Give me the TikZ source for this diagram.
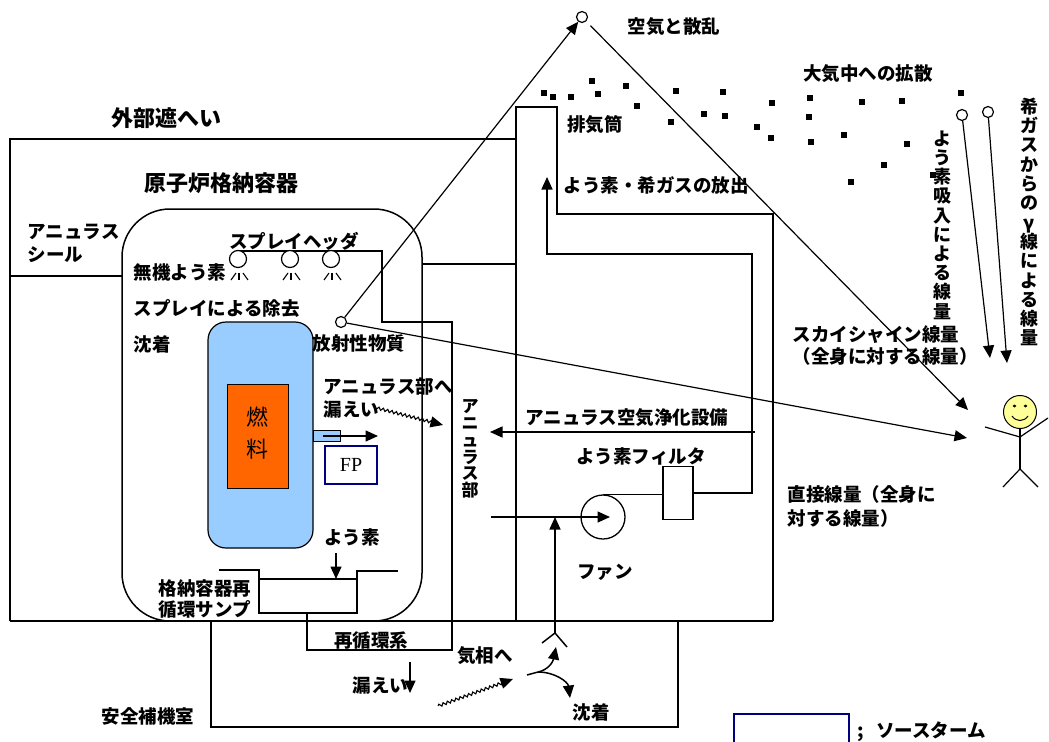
\documentclass[tikz,border=0pt]{standalone}
\usepackage{fontspec}
\setmainfont{Noto Sans CJK JP}
\newfontfamily\fpfont{Liberation Serif}
\usetikzlibrary{arrows.meta,decorations.pathmorphing}
\definecolor{vesselblue}{RGB}{153,204,255}
\definecolor{fuelorange}{RGB}{255,102,0}
\definecolor{fpnavy}{RGB}{0,0,128}
\definecolor{faceyellow}{RGB}{255,255,153}

\begin{document}
\begin{tikzpicture}[x=1bp,y=-1bp,line width=1.5bp,
  every node/.style={inner sep=0pt},
  lbl/.style={font=\fontsize{18.5bp}{20bp}\selectfont\bfseries},
  ttl/.style={font=\fontsize{22bp}{24bp}\selectfont\bfseries},
  vlbl/.style={align=center,font=\fontsize{18bp}{19.2bp}\selectfont\bfseries},
  arr/.style={-{Triangle[length=12.5bp,width=11bp]}},
  ray/.style={line width=1.2bp,arr},
  speck/.style={rectangle,fill=black,minimum width=6.5bp,minimum height=5.5bp},
  ring/.style={circle,draw,fill=white,minimum size=11bp,line width=1.2bp},
  nozzle/.style={circle,draw,fill=white,minimum size=17bp,line width=1.2bp},
  wavy/.style={decorate,decoration={snake,amplitude=1.4bp,segment length=4.5bp,post length=10bp}},
]
\useasboundingbox (0,0) rectangle (1049,742);
\clip (0,0) rectangle (1049,742);

% ---------- buildings ----------
% outer shield, stack and reactor building
\draw (10,621) -- (10,139) -- (516,139);
\draw (10,621) -- (773,621);
\draw (516,621) -- (516,107) -- (557,107) -- (557,214) -- (773,214) -- (773,621);
\draw (422,264) -- (516,264);
\draw (10,276) -- (122,276);
% safety auxiliary room
\draw (211,621) -- (211,727) -- (678,727) -- (678,621);
% containment vessel
\draw[rounded corners=48bp] (122,209) rectangle (422,621);

% ---------- spray / recirculation piping ----------
\draw (238,251) -- (382,251) -- (382,322) -- (452,322) -- (452,650) -- (307,650) -- (307,613);
% sump
\draw (219,570) -- (259,570) -- (259,613) -- (357,613) -- (357,571) -- (398,571);
\draw (259,579) -- (357,579);

% spray heads
\foreach \cx [count=\i] in {238,290,331} {
  \node[nozzle] (head\i) at (\cx,259) {};
  \draw[line width=1.1bp] (\cx-2,273) -- (\cx-7,280);
  \draw[line width=1.1bp] (\cx+1,273) -- (\cx+1,280);
  \draw[line width=1.1bp] (\cx+5,273) -- (\cx+10,280);
}

% ---------- reactor vessel ----------
\draw[fill=vesselblue,line width=1.2bp,rounded corners=18bp] (208,322) rectangle (313,548);
\draw[fill=fuelorange,line width=0.8bp] (227,384) rectangle (288,488);
\node[align=center,font=\fontsize{22bp}{32bp}\selectfont] (fueltxt) at (257.5,433) {燃\\料};
\draw[fill=vesselblue,line width=0.9bp] (313,430) rectangle (340,441);
\coordinate (fpfrom) at (323,436);
\coordinate (fpto) at (378,436);
\draw[arr] (fpfrom) -- (fpto);
\node[draw=fpnavy,line width=2.2bp,minimum width=52bp,minimum height=38bp,
      font=\fpfont\fontsize{20bp}{22bp}\selectfont] (fp) at (351,465) {FP};

% iodine into sump
\coordinate (iodfrom) at (336,553);
\coordinate (iodto) at (336,579);
\draw[arr] (iodfrom) -- (iodto);

% ---------- annulus air cleanup system ----------
\node[circle,draw,minimum size=44bp,line width=1.3bp] (fan) at (603,517) {};
\node[rectangle,draw,minimum width=30bp,minimum height=53bp,line width=1.3bp] (filter) at (678,493) {};
\draw (fan.north) -- (fan.north -| filter.west);
\coordinate (stackin) at (547,177);
\draw[arr] (filter.east) -- (752,493) -- (752,254) -- (547,254) -- (stackin);
\coordinate (recfrom) at (755,432);
\coordinate (recto) at (490,432);
\draw[arr] (recfrom) -- (recto);
\coordinate (intake) at (491,517);
\coordinate (fanin) at (610,517);
\draw[arr] (intake) -- (fanin);
\coordinate (inlet) at (555,633);
\coordinate (inletto) at (555,517);
\draw[arr] (inlet) -- (inletto);
\draw (inlet) -- ++(-13,10);
\draw (inlet) -- ++(12,14);

% ---------- leak paths ----------
\coordinate (lkA) at (373,407);
\coordinate (lkB) at (443,425);
\draw[wavy,arr,line width=1.1bp] (lkA) -- (lkB);
\coordinate (lkC) at (438,706);
\coordinate (lkD) at (513,679);
\draw[wavy,arr,line width=1.1bp] (lkC) -- (lkD);
\coordinate (drip) at (410,662);
\coordinate (dripto) at (410,693);
\draw[arr] (drip) -- (dripto);
\coordinate (gas) at (527,675);
\coordinate (split) at (538,672);
\draw (gas) -- (split);
\draw[arr] (split) .. controls (548,670) and (553,662) .. (556,647);
\draw[arr] (split) .. controls (555,672) and (568,682) .. (570,698);

% ---------- radiation paths ----------
\node[ring] (rad) at (341,322) {};
\node[ring] (air) at (582,17) {};
\coordinate (skytip) at (968,410);
\coordinate (directtip) at (967,438);
\draw[ray] (rad) -- (air);
\draw[ray,shorten <=6bp] (air) -- (skytip);
\draw[ray] (rad) -- (directtip);
\node[ring] (iodc) at (962,115) {};
\node[ring] (gasc) at (988,112) {};
\coordinate (iodtip) at (990,358);
\coordinate (gastip) at (1007,363);
\draw[ray] (iodc) -- (iodtip);
\draw[ray] (gasc) -- (gastip);

% ---------- person ----------
\node[circle,draw,fill=faceyellow,minimum size=33bp,line width=1bp] (face) at (1020,412) {};
\fill (1014.5,406) ellipse (1.9bp and 1.5bp);
\fill (1025.5,406) ellipse (1.9bp and 1.5bp);
\draw[line width=1bp] (1012,416) .. controls (1016,422) and (1024,422) .. (1028,416);
\coordinate (hip) at (1020,469);
\draw[line width=1.2bp] (face.south) -- (hip);
\draw[line width=1.2bp] (985,427) -- (1020,437) -- (1048,418);
\draw[line width=1.2bp] (1003,487) -- (hip) -- (1038,487);

% ---------- labels ----------
\node[ttl] (shieldlbl) at (166,118) {外部遮へい};
\node[ttl] (cvlbl) at (221,183) {原子炉格納容器};
\node[lbl,anchor=west] (sealA) at (27,232) {アニュラス};
\node[lbl,anchor=west] (sealB) at (27,255) {シール};
\node[lbl] (spraylbl) at (294,241) {スプレイヘッダ};
\node[lbl,anchor=west] (inorg) at (133,272) {無機よう素};
\node[lbl,anchor=west] (sprayrm) at (133,308) {スプレイによる除去};
\node[lbl,anchor=west] (depoA) at (133,344) {沈着};
\node[lbl,anchor=west] (radlbl) at (312,343) {放射性物質};
\node[lbl,anchor=west] (leakA1) at (323,387) {アニュラス部へ};
\node[lbl,anchor=west] (leakA2) at (323,409) {漏えい};
\node[lbl] (iodlbl) at (352,537) {よう素};
\node[lbl,anchor=west] (sumpA) at (158,588) {格納容器再};
\node[lbl,anchor=west] (sumpB) at (158,609) {循環サンプ};
\node[align=center,font=\fontsize{17bp}{16.8bp}\selectfont\bfseries] (annlbl) at (470,449) {ア\\ニ\\ュ\\ラ\\ス\\部};
\node[lbl] (stacklbl) at (595,125) {排気筒};
\node[lbl] (scatlbl) at (674,27) {空気と散乱};
\node[lbl] (rellbl) at (656,185) {よう素・希ガスの放出};
\node[lbl] (difflbl) at (868,74) {大気中への拡散};
\node[vlbl] (inhlbl) at (942,225) {よ\\う\\素\\吸\\入\\に\\よ\\る\\線\\量};
\node[vlbl,font=\fontsize{18bp}{19.3bp}\selectfont\bfseries] (gamlbl) at (1029,222) {希\\ガ\\ス\\か\\ら\\の\\γ\\線\\に\\よ\\る\\線\\量};
\node[lbl,anchor=west] (skyA) at (792,335) {スカイシャイン線量};
\node[lbl,anchor=west] (skyB) at (792,356) {（全身に対する線量）};
\node[lbl,anchor=west] (dirA) at (787,494) {直接線量（全身に};
\node[lbl,anchor=west] (dirB) at (787,518) {対する線量）};
\node[lbl] (aclbl) at (627,418) {アニュラス空気浄化設備};
\node[lbl] (filtlbl) at (641,456) {よう素フィルタ};
\node[lbl] (fanlbl) at (605,572) {ファン};
\node[lbl] (recirclbl) at (371,640) {再循環系};
\node[lbl] (vaplbl) at (485,656) {気相へ};
\node[lbl,anchor=west] (leakB) at (352,685) {漏えい};
\node[lbl] (depoB) at (591,712) {沈着};
\node[lbl] (auxlbl) at (148,716) {安全補機室};

% ---------- airborne particles ----------
\foreach \p [count=\i] in {(544,93),(553,97),(571,97),(592,81),(598,94),(626,86),(637,106),
  (671,122),(676,91),(704,114),(723,92),(725,116),(757,127),(771,138),(772,103),(810,98),
  (809,117),(811,142),(844,135),(862,102),(902,101),(907,144),(884,165),(851,182),(961,93),(933,175)}
  \node[speck] (pt\i) at \p {};

% ---------- legend ----------
\node[draw=fpnavy,line width=2.2bp,minimum width=115bp,minimum height=40bp,anchor=north west] (legend) at (733,713) {};
\node[lbl,anchor=west] (legendlbl) at (857,732) {;\hspace{12bp}ソースターム};
\end{tikzpicture}
\end{document}
